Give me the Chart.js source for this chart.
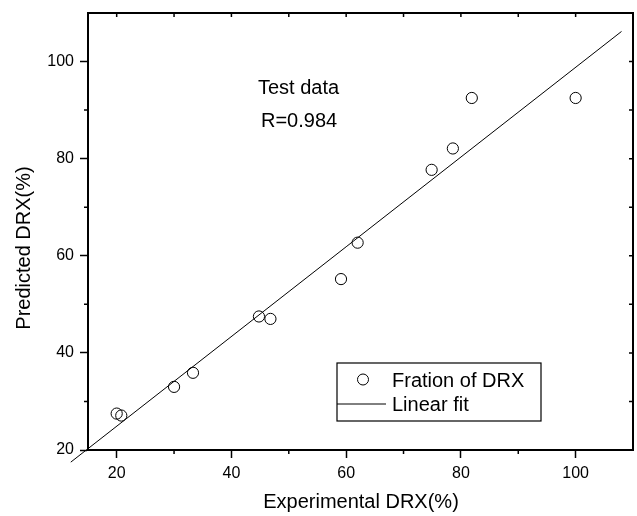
<!DOCTYPE html>
<html>
<head>
<meta charset="utf-8">
<script src="https://cdn.jsdelivr.net/npm/chart.js@4.4.1/dist/chart.umd.min.js"></script>
<style>
  html, body { margin: 0; padding: 0; background: #fff; }
  canvas { display: block; }
</style>
</head>
<body>
<canvas id="chart" width="637" height="516"></canvas>
<script>
// values
const expDRX = [20.0, 20.8, 30.0, 33.3, 44.8, 46.8, 59.1, 62.0, 74.9, 78.6, 81.9, 100.0]
const predDRX = [27.5, 27.1, 33.0, 35.9, 47.5, 47.0, 55.2, 62.7, 77.7, 82.1, 92.5, 92.5]
const fitX = [12.0, 108.0]
const fitY = [17.5, 106.2]
const xLabels = [20, 40, 60, 80, 100]
const yLabels = [20, 40, 60, 80, 100]

const FONT = "'Liberation Sans', Arial, sans-serif"
Chart.defaults.font.family = FONT
Chart.defaults.color = '#000'

let points = expDRX.map((x, i) => ({x: x, y: predDRX[i]}))
let fit = fitX.map((x, i) => ({x: x, y: fitY[i]}))

// frame, minor ticks, texts and legend
const extras = {
  id: 'extras',
  afterDraw(chart){
    const ctx = chart.ctx
    const {left, top, right, bottom} = chart.chartArea
    const xs = chart.scales.x, ys = chart.scales.y
    ctx.save()
    ctx.strokeStyle = '#000'
    ctx.lineWidth = 2
    ctx.beginPath()
    ctx.moveTo(left, top); ctx.lineTo(right, top); ctx.lineTo(right, bottom)
    ctx.stroke()

    ctx.lineWidth = 1.5
    ctx.beginPath()
    xs.ticks.forEach(t => {
      if (t.value < 20 || t.value > 100) return
      let p = xs.getPixelForValue(t.value)
      ctx.moveTo(p, top); ctx.lineTo(p, top + 4)
      if (t.value % 20 !== 0) { ctx.moveTo(p, bottom); ctx.lineTo(p, bottom + 4) }
    })
    ys.ticks.forEach(t => {
      if (t.value < 20 || t.value > 100) return
      let p = ys.getPixelForValue(t.value)
      ctx.moveTo(right, p); ctx.lineTo(right - 4, p)
      if (t.value % 20 !== 0) { ctx.moveTo(left, p); ctx.lineTo(left - 4, p) }
    })
    ctx.stroke()

    // texts
    ctx.fillStyle = '#000'
    ctx.font = '20px ' + FONT
    ctx.textBaseline = 'alphabetic'
    ctx.textAlign = 'left'
    ctx.fillText('Test data', 258, 94)
    ctx.fillText('R=0.984', 261, 127)

    ctx.textAlign = 'center'
    ctx.fillText('Experimental DRX(%)', 361, 508)
    ctx.save()
    ctx.translate(30, 248)
    ctx.rotate(-Math.PI / 2)
    ctx.fillText('Predicted DRX(%)', 0, 0)
    ctx.restore()

    // legend box
    let bx = 337, by = 363, bw = 204, bh = 58
    ctx.lineWidth = 1.2
    ctx.strokeRect(bx, by, bw, bh)
    let ds = chart.data.datasets
    ctx.lineWidth = 1
    ctx.beginPath()
    ctx.arc(363, 379.5, 5.5, 0, Math.PI * 2)
    ctx.stroke()
    ctx.beginPath()
    ctx.moveTo(bx, 404); ctx.lineTo(386, 404)
    ctx.stroke()
    ctx.textAlign = 'left'
    ctx.fillText(ds[0].label, 392, 386.5)
    ctx.fillText(ds[1].label, 392, 411)
    ctx.restore()
  }
}

new Chart(document.getElementById('chart'), {
  type: 'scatter',
  data: {
    datasets: [
      {
        label: 'Fration of DRX',
        data: points,
        pointStyle: 'circle',
        pointRadius: 5.6,
        pointBorderWidth: 1,
        borderColor: '#000',
        backgroundColor: 'rgba(0,0,0,0)'
      },
      {
        label: 'Linear fit',
        data: fit,
        showLine: true,
        pointRadius: 0,
        borderColor: '#000',
        borderWidth: 1,
        clip: false
      }
    ]
  },
  options: {
    responsive: false,
    animation: false,
    layout: { autoPadding: false, padding: { top: 13, right: 4, left: 0, bottom: 0 } },
    plugins: { legend: { display: false }, tooltip: { enabled: false } },
    scales: {
      x: {
        min: 15, max: 110,
        afterFit: s => { s.height = 66; s.paddingLeft = 0; s.paddingRight = 0 },
        border: { color: '#000', width: 2 },
        grid: {
          drawOnChartArea: false,
          tickLength: 8,
          tickWidth: 1.5,
          tickColor: c => xLabels.includes(c.tick.value) ? '#000' : 'rgba(0,0,0,0)'
        },
        ticks: {
          stepSize: 10,
          autoSkip: false,
          maxRotation: 0,
          padding: 6,
          font: { size: 16 },
          callback: v => xLabels.includes(v) ? v : ''
        }
      },
      y: {
        min: 20, max: 110,
        afterFit: s => { s.width = 88; s.paddingTop = 0; s.paddingBottom = 0 },
        border: { color: '#000', width: 2 },
        grid: {
          drawOnChartArea: false,
          tickLength: 8,
          tickWidth: 1.5,
          tickColor: c => yLabels.includes(c.tick.value) ? '#000' : 'rgba(0,0,0,0)'
        },
        ticks: {
          stepSize: 10,
          autoSkip: false,
          padding: 6,
          font: { size: 16 },
          callback: v => yLabels.includes(v) ? v : ''
        }
      }
    }
  },
  plugins: [extras]
})
</script>
</body>
</html>
